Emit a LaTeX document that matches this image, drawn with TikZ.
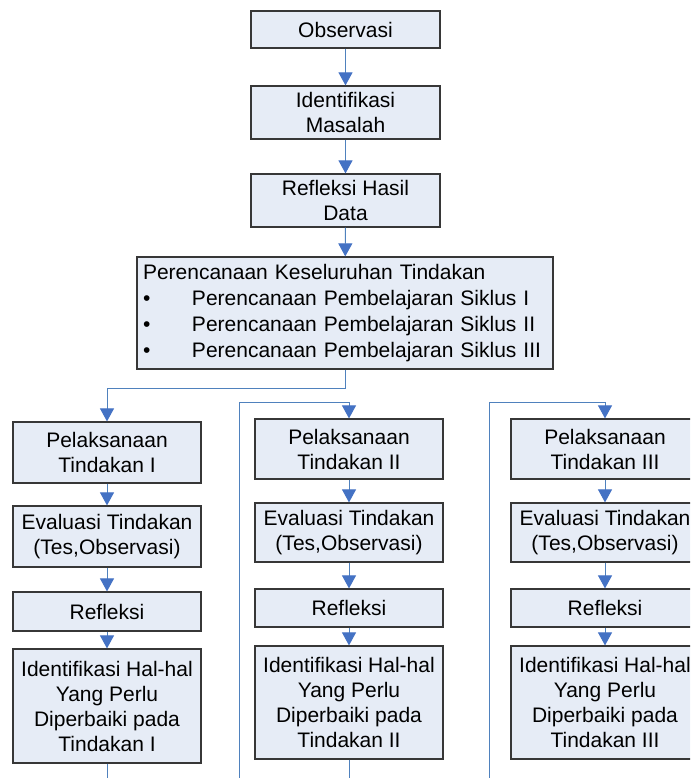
\documentclass[tikz,border=0pt]{standalone}
\usepackage{fontspec}
\setmainfont{Liberation Sans}
\usetikzlibrary{arrows.meta}
\definecolor{boxfill}{RGB}{230,236,246}
\definecolor{boxline}{RGB}{55,55,55}
\definecolor{conn}{RGB}{79,129,189}
\definecolor{tipc}{RGB}{68,114,196}
\tikzset{
  box/.style={draw=boxline, fill=boxfill, line width=1.2pt, align=center, inner sep=0pt,
    minimum width=188pt, font=\fontsize{21}{25}\selectfont},
  wire/.style={draw=conn, line width=1pt},
  arr/.style={wire, -{Triangle[width=14pt,length=13pt,fill=tipc,color=tipc]}}
}
\begin{document}
\begin{tikzpicture}[x=1pt,y=-1pt]
\useasboundingbox (0,0) rectangle (690,778);
\fill[white] (0,0) rectangle (690,778);
\begin{scope}
\clip (0,0) rectangle (690,778);
% top chain
\node[box, minimum width=189pt, minimum height=37pt] (obs) at (345.5,29.5) {Observasi};
\node[box, minimum width=189pt, minimum height=53pt] (idm) at (345.5,112.5) {Identifikasi\\Masalah};
\node[box, minimum width=189pt, minimum height=53pt] (rhd) at (345.5,200.5) {Refleksi Hasil\\Data};
\node[box, minimum width=416pt, minimum height=112pt, text width=404pt, align=left,
      inner xsep=6pt, font=\fontsize{21}{26}\selectfont] (plan) at (345,313)
  {Perencanaan Keseluruhan Tindakan\\
   \makebox[49pt][l]{\textbullet}Perencanaan Pembelajaran Siklus I\\
   \makebox[49pt][l]{\textbullet}Perencanaan Pembelajaran Siklus II\\
   \makebox[49pt][l]{\textbullet}Perencanaan Pembelajaran Siklus III};
% column 1
\node[box, minimum height=61pt] (p1) at (107,452.5) {Pelaksanaan\\Tindakan I};
\node[box, minimum height=61pt] (e1) at (107,536.5) {Evaluasi Tindakan\\(Tes,Observasi)};
\node[box, minimum height=39pt] (r1) at (107,611.5) {Refleksi};
\node[box, minimum height=114pt] (i1) at (107,706) {Identifikasi Hal-hal\\Yang Perlu\\Diperbaiki pada\\Tindakan I};
% column 2
\node[box, minimum height=60pt] (p2) at (349,449) {Pelaksanaan\\Tindakan II};
\node[box, minimum height=59pt] (e2) at (349,532.5) {Evaluasi Tindakan\\(Tes,Observasi)};
\node[box, minimum height=38pt] (r2) at (349,608) {Refleksi};
\node[box, minimum height=113pt] (i2) at (349,702.5) {Identifikasi Hal-hal\\Yang Perlu\\Diperbaiki pada\\Tindakan II};
% column 3
\node[box, minimum height=60pt] (p3) at (605,449) {Pelaksanaan\\Tindakan III};
\node[box, minimum height=59pt] (e3) at (605,532.5) {Evaluasi Tindakan\\(Tes,Observasi)};
\node[box, minimum height=38pt] (r3) at (605,608) {Refleksi};
\node[box, minimum height=113pt] (i3) at (605,702.5) {Identifikasi Hal-hal\\Yang Perlu\\Diperbaiki pada\\Tindakan III};
% free ends
\coordinate (s2) at (239,778);
\coordinate (s3) at (489,778);
\coordinate (k2) at (239,402);
\coordinate (k3) at (489,402);
\coordinate (d1) at (107,778);
\coordinate (d2) at (349,778);
% connectors
\draw[arr] (obs) -- (idm);
\draw[arr] (idm) -- (rhd);
\draw[arr] (rhd) -- (plan);
\draw[arr] (plan.south) -- ++(0,19) -| (p1.north);
\draw[arr] (s2) -- (k2) -| (p2.north);
\draw[arr] (s3) -- (k3) -| (p3.north);
\draw[arr] (p1) -- (e1);
\draw[arr] (e1) -- (r1);
\draw[arr] (r1) -- (i1);
\draw[arr] (p2) -- (e2);
\draw[arr] (e2) -- (r2);
\draw[arr] (r2) -- (i2);
\draw[arr] (p3) -- (e3);
\draw[arr] (e3) -- (r3);
\draw[arr] (r3) -- (i3);
\draw[wire] (i1) -- (d1);
\draw[wire] (i2) -- (d2);
\end{scope}
\end{tikzpicture}
\end{document}
